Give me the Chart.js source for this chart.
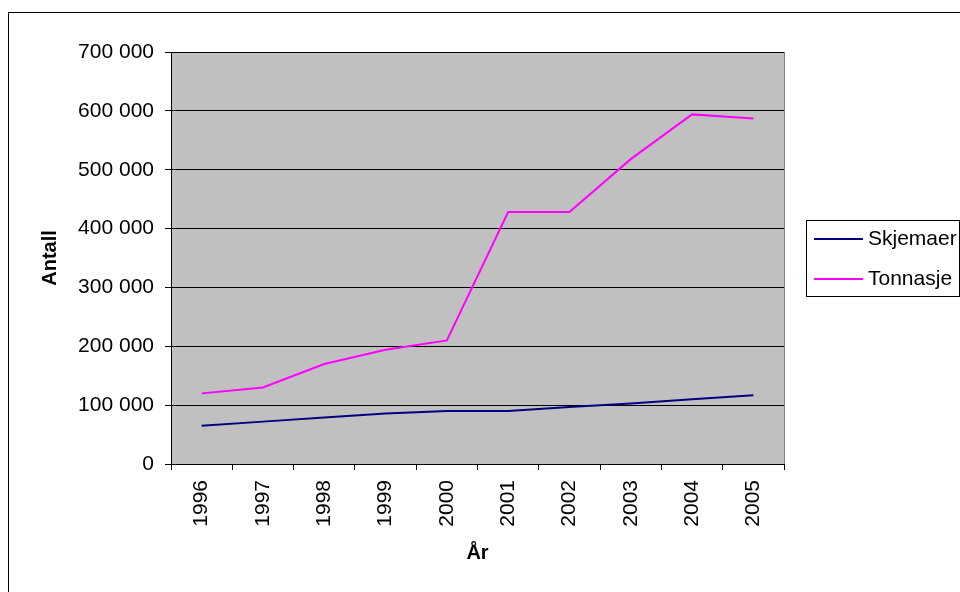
<!DOCTYPE html>
<html>
<head>
<meta charset="utf-8">
<script src="https://cdn.jsdelivr.net/npm/chart.js@4/dist/chart.umd.min.js"></script>
<style>
  html, body { margin: 0; padding: 0; background: #fff; }
  canvas { display: block; }
</style>
</head>
<body>
<canvas id="myChart" width="960" height="592"></canvas>
<script>
const years = ['1996', '1997', '1998', '1999', '2000', '2001', '2002', '2003', '2004', '2005'];
const skjemaer = [65000, 72000, 79000, 86000, 90000, 90000, 97000, 103000, 110000, 117000];
const tonnasje = [120000, 130000, 170000, 194000, 210000, 428000, 428000, 518000, 594000, 587000];
const yMax = 700000;
const yStep = 100000;

const fmt = v => String(v).replace(/\B(?=(\d{3})+(?!\d))/g, ' ');

// grey plot area, outer frame and the boxed legend
const frame = {
  id: 'frame',
  beforeDraw(chart) {
    const { ctx, chartArea: a } = chart;
    ctx.save();
    ctx.fillStyle = '#fff';
    ctx.fillRect(0, 0, chart.width, chart.height);
    ctx.fillStyle = '#c0c0c0';
    ctx.fillRect(a.left, a.top, a.right - a.left, a.bottom - a.top);
    ctx.strokeStyle = '#808080';
    ctx.lineWidth = 1;
    ctx.strokeRect(a.left + 0.5, a.top + 0.5, a.right - a.left, a.bottom - a.top);
    ctx.strokeStyle = '#000';
    ctx.strokeRect(8.5, 12.5, 1200, 1200);
    ctx.restore();
  },
  afterDraw(chart) {
    const { ctx } = chart;
    ctx.save();
    ctx.strokeStyle = '#000';
    ctx.lineWidth = 1;
    ctx.strokeRect(806.5, 220.5, 153, 76);
    ctx.font = '21px "Liberation Sans", Arial, sans-serif';
    ctx.textBaseline = 'middle';
    ctx.fillStyle = '#000';
    chart.data.datasets.forEach((ds, i) => {
      const y = 239 + i * 40;
      ctx.strokeStyle = ds.borderColor;
      ctx.lineWidth = 2;
      ctx.beginPath();
      ctx.moveTo(814, y);
      ctx.lineTo(863, y);
      ctx.stroke();
      ctx.fillText(ds.label, 868, y);
    });
    ctx.restore();
  }
};

const ctx = document.getElementById('myChart');

new Chart(ctx, {
  type: 'line',
  data: {
    labels: years,
    datasets: [
      { label: 'Skjemaer', data: skjemaer, borderColor: '#000080', borderWidth: 2, pointRadius: 0, tension: 0 },
      { label: 'Tonnasje', data: tonnasje, borderColor: '#ff00ff', borderWidth: 2, pointRadius: 0, tension: 0 }
    ]
  },
  options: {
    responsive: false,
    animation: false,
    layout: { padding: { left: 0, top: 52, right: 176, bottom: 0 } },
    plugins: { legend: { display: false }, tooltip: { enabled: false } },
    scales: {
      x: {
        offset: true,
        grid: { offset: true, drawOnChartArea: false, drawTicks: true, tickLength: 6, color: '#000' },
        border: { color: '#000' },
        ticks: {
          color: '#000', minRotation: 90, maxRotation: 90, padding: 10, autoSkip: false,
          font: { family: '"Liberation Sans", Arial, sans-serif', size: 21 }
        },
        title: {
          display: true, text: 'År', color: '#000', padding: { bottom: 27 },
          font: { family: '"Liberation Sans", Arial, sans-serif', size: 20, weight: 'bold' }
        },
        afterFit(s) { s.height = 128; }
      },
      y: {
        min: 0,
        max: yMax,
        grid: { color: '#000', tickLength: 6 },
        border: { color: '#000' },
        ticks: {
          stepSize: yStep, color: '#000', padding: 11,
          font: { family: '"Liberation Sans", Arial, sans-serif', size: 21 },
          callback: v => fmt(v)
        },
        title: {
          display: true, text: 'Antall', color: '#000', padding: { top: 38 },
          font: { family: '"Liberation Sans", Arial, sans-serif', size: 20, weight: 'bold' }
        },
        afterFit(s) { s.width = 171; }
      }
    }
  },
  plugins: [frame]
});
</script>
</body>
</html>
